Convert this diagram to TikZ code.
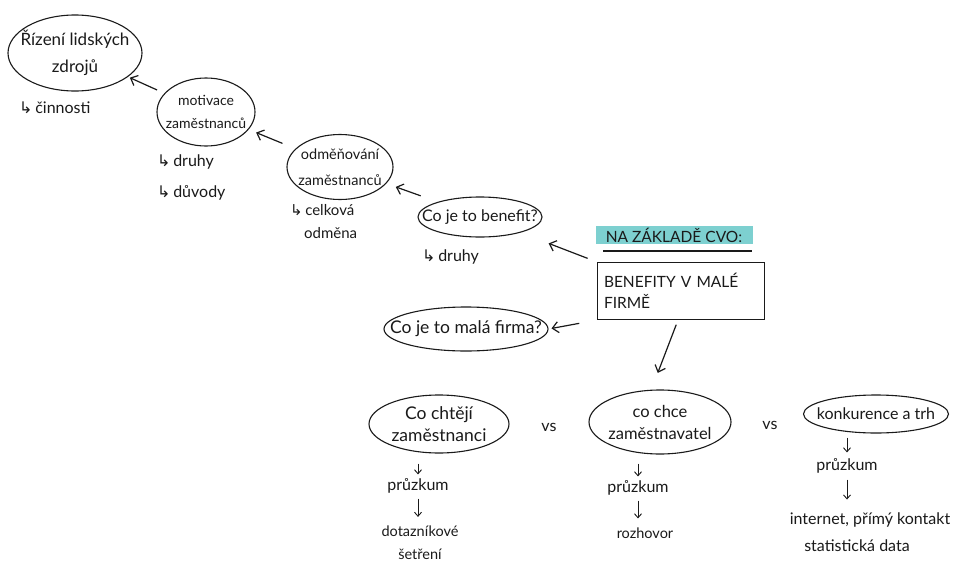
\documentclass[tikz,border=0pt]{standalone}
\usepackage{fontspec}
\setmainfont{Lato}
\newfontfamily\symf{DejaVu Sans}
\usetikzlibrary{shapes.geometric,arrows.meta,calc}
\definecolor{ink}{HTML}{1A1A1A}
\definecolor{hilite}{HTML}{7DD0D0}
\newcommand{\hk}{{\symf ↳}\,}
\begin{document}
\begin{tikzpicture}[x=1pt,y=-1pt,
  every node/.style={font=\fontsize{16}{20}\selectfont, text=ink, inner sep=1pt},
  bubble/.style={ellipse, draw=ink, line width=1.1pt, align=center, inner sep=-40pt},
  lbl/.style={align=left},
  arr/.style={draw=ink, line width=1.2pt, -{Straight Barb[length=6pt,width=11pt,line width=1.2pt]}},
  sarr/.style={draw=ink, line width=0.9pt, -{Straight Barb[length=4pt,width=7pt,line width=0.9pt]}}]
\useasboundingbox (0,0) rectangle (954,568);
\fill[white] (0,0) rectangle (954,568);

% top-left chain
\node[bubble, minimum width=134, minimum height=76, font=\fontsize{17}{27}\selectfont] (hrm) at (75,53) {Řízení lidských\\zdrojů};
\node[lbl, anchor=west] (cin) at (18,108) {\hk činnosti};
\node[bubble, minimum width=98, minimum height=68, font=\fontsize{14}{23}\selectfont] (mot) at (206,112) {motivace\\zaměstnanců};
\node[lbl, anchor=west] (dru1) at (156,162) {\hk druhy};
\node[lbl, anchor=west] (duv) at (156,193) {\hk důvody};
\node[bubble, minimum width=106, minimum height=65, font=\fontsize{14.5}{26}\selectfont] (odm) at (340,167) {odměňování\\zaměstnanců};
\node[lbl, anchor=west, font=\fontsize{15}{18}\selectfont] (cel) at (289,210) {\hk celková};
\node[lbl, anchor=west, font=\fontsize{15}{18}\selectfont] (odmena) at (303,233) {odměna};
\node[bubble, minimum width=124, minimum height=40] (ben) at (480,217) {Co je to benefit?};
\node[lbl, anchor=west] (dru2) at (421,257) {\hk druhy};

% central box
\node[fill=hilite, minimum width=157, minimum height=18, inner sep=0pt, font=\fontsize{15.5}{18}\selectfont] (cvo) at (674,235) {NA ZÁKLADĚ CVO:};
\coordinate (ul1) at (603,251);
\coordinate (ul2) at (752,251);
\draw[ink, line width=1.1pt] (ul1) -- (ul2);
\node[draw=ink, line width=1.1pt, minimum width=167, minimum height=57, text width=154, align=left,
      font=\fontsize{15.5}{21}\selectfont] (box) at (681,291) {BENEFITY V MALÉ\\FIRMĚ};

\node[bubble, minimum width=164, minimum height=44, font=\fontsize{17.5}{20}\selectfont] (mf) at (466,329) {Co je to malá firma?};

% bottom row
\node[bubble, minimum width=140, minimum height=58, font=\fontsize{17.5}{22}\selectfont] (ce) at (439,424) {Co chtějí\\zaměstnanci};
\node (vs1) at (549,427) {vs};
\node[bubble, minimum width=142, minimum height=64, font=\fontsize{16.5}{22}\selectfont] (cz) at (660,422) {co chce\\zaměstnavatel};
\node (vs2) at (770,425) {vs};
\node[bubble, minimum width=145, minimum height=38] (kt) at (876,414) {konkurence a trh};

\node (p1) at (418,486) {průzkum};
\node[align=center, font=\fontsize{14.5}{23}\selectfont] (r1) at (420,543) {dotazníkové\\šetření};
\node (p2) at (638,488) {průzkum};
\node[font=\fontsize{14.5}{18}\selectfont] (r2) at (645,533) {rozhovor};
\node (p3) at (847,466) {průzkum};
\node (r3) at (870,520) {internet, přímý kontakt};
\node (r3b) at (857,546) {statistická data};

% connectors
\draw[arr, shorten <=8pt, shorten >=2pt] (mot) -- (hrm);
\draw[arr, shorten <=14pt, shorten >=8pt] (odm) -- (mot);
\draw[arr, shorten <=18pt, shorten >=10pt] (ben) -- (odm);
\draw[arr, shorten <=10pt, shorten >=30pt] (box.north west) -- (ben);
\draw[arr, shorten <=18pt, shorten >=3pt] (box.south west) -- (mf.east);
\draw[arr, shorten <=5pt, shorten >=18pt] ([xshift=-3pt]box.south) -- (cz.105);

\draw[sarr, shorten <=10pt, shorten >=3pt] (ce.south -| p1) -- (p1.north);
\draw[sarr, shorten <=4pt, shorten >=8pt] (p1.south) -- (p1.south |- r1.north);
\draw[sarr, shorten <=9pt, shorten >=3pt] (cz.south -| p2) -- (p2.north);
\draw[sarr, shorten <=4pt, shorten >=8pt] (p2.south) -- (p2.south |- r2.north);
\draw[sarr, shorten <=4pt, shorten >=5pt] (kt.south -| p3) -- (p3.north);
\draw[sarr, shorten <=5pt, shorten >=12pt] (p3.south) -- (p3.south |- r3.north);
\end{tikzpicture}
\end{document}
